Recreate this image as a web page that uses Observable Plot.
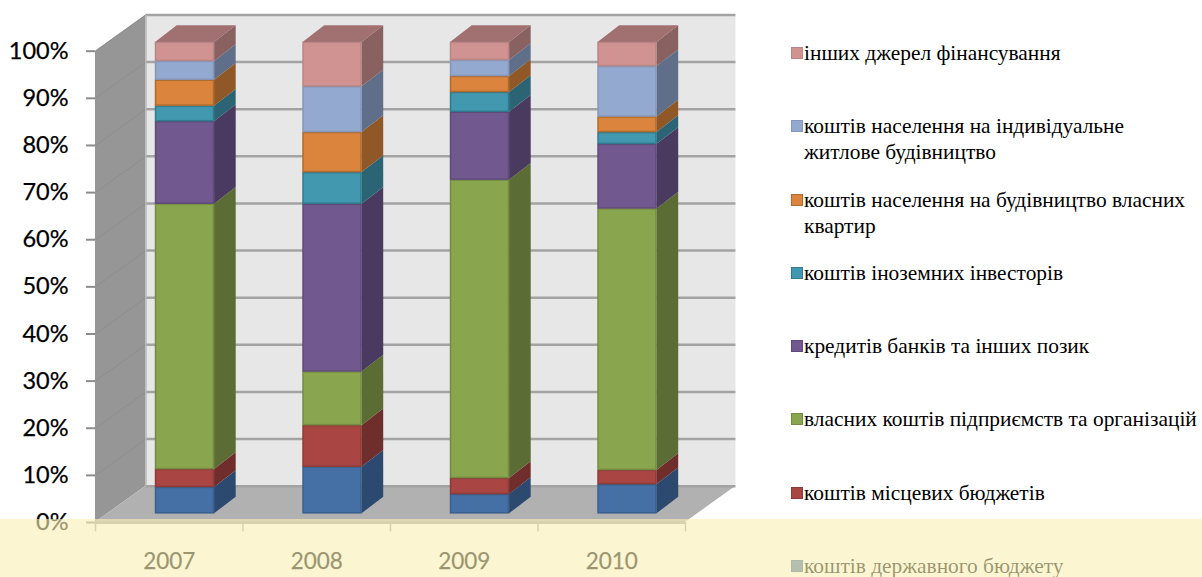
<!DOCTYPE html>
<html lang="uk"><head><meta charset="utf-8">
<style>
html,body{margin:0;padding:0;background:#fff;overflow:hidden}
#stage{position:relative;width:1202px;height:577px;overflow:hidden}
#stage svg{position:absolute;left:0;top:0;overflow:visible}
#legend{position:absolute;left:791px;top:40px;margin:0;padding:0;list-style:none;
  font-family:"Liberation Serif",serif;font-size:21.4px;line-height:26px;color:#000}
#legend li{height:73.3px;display:flex;align-items:flex-start;white-space:pre-line}
#legend i{display:block;flex:none;width:10px;height:10px;margin:7px 1px 0 0;border:1px solid}
#veil{position:absolute;left:0;top:519px;width:1202px;height:58px;background:rgba(249,241,181,.62)}
</style>
<script src="https://cdn.jsdelivr.net/npm/d3@7"></script>
<script src="https://cdn.jsdelivr.net/npm/@observablehq/plot@0.6"></script>
</head><body><div id="stage"></div>
<script>
const years = ["2007","2008","2009","2010"];
const seriesNames = [
  "коштів державного бюджету",
  "коштів місцевих бюджетів",
  "власних коштів підприємств та організацій",
  "кредитів банків та інших позик",
  "коштів іноземних інвесторів",
  "коштів населення на будівництво власних\nквартир",
  "коштів населення на індивідуальне\nжитлове будівництво",
  "інших джерел фінансування"
];
const stateBudget = [5.6, 9.9, 4.1, 6.2];
const localBudgets = [3.8, 8.8, 3.4, 3.0];
const ownFunds = [56.3, 11.4, 63.3, 55.5];
const bankLoans = [17.5, 35.6, 14.4, 13.7];
const foreignInvestors = [3.3, 6.7, 4.2, 2.5];
const ownApartments = [5.5, 8.5, 3.4, 3.3];
const individualHousing = [4.0, 9.7, 3.4, 10.7];
const otherSources = [4.0, 9.4, 3.8, 5.1];
const seriesValues = [stateBudget, localBudgets, ownFunds, bankLoans, foreignInvestors, ownApartments, individualHousing, otherSources];
const frontColors = ["#4470a6","#a94543","#89a54e","#71588f","#4198af","#db843d","#93a9cf","#d19392"];
const sideColors  = ["#2c4a70","#6f2d2c","#5b6d34","#4a3a5f","#2a6475","#905727","#5f6f89","#896161"];
const edgeColors  = ["#3a5f8d","#8e3a38","#748c42","#5f4a79","#2f7a8e","#b06a2d","#8796b8","#b78685"];
const topColor = "#a07170";

// 3-D box geometry, in chart units (x: category slots, y: percent)
const wallDX = 0.342, wallDY = 7.7;
const barLeft = 0.407, barWidth = 0.4, barLift = 1.84;
const barDX = 0.147, barDY = 3.54;
const percentTicks = d3.range(0, 101, 10);

const segments = years.flatMap((year, i) => {
  let sum = 0;
  return seriesValues.map((vals, s) => {
    const lo = sum; sum += vals[i];
    return {key: year + s, s, l: i + barLeft, r: i + barLeft + barWidth,
      lo: lo + barLift, hi: sum + barLift, fill: frontColors[s], side: sideColors[s], edge: edgeColors[s]};
  });
});
const sidePts = segments.flatMap(d => [
  {key: d.key, x: d.r, y1: d.lo, y2: d.hi, fill: d.side},
  {key: d.key, x: d.r + barDX, y1: d.lo + barDY, y2: d.hi + barDY, fill: d.side}
]);
const tops = segments.filter(d => d.s === seriesValues.length - 1).flatMap(d => [
  {key: d.key, x1: d.l, x2: d.r, y: d.hi},
  {key: d.key, x1: d.l + barDX, x2: d.r + barDX, y: d.hi + barDY}
]);

const plot = Plot.plot({
  width: 1202, height: 577,
  marginLeft: 95, marginRight: 517, marginTop: 50.7, marginBottom: 55,
  x: {domain: [0, 4], label: null},
  y: {domain: [0, 100], label: null},
  color: {type: "identity"},
  style: {fontFamily: "Lato, sans-serif", background: "transparent", overflow: "visible"},
  marks: [
    // left wall
    Plot.area([{x: 0, y1: 0, y2: 100}, {x: wallDX, y1: wallDY, y2: 100 + wallDY}],
      {x1: "x", x2: "x", y1: "y1", y2: "y2", fill: "#969696"}),
    // back wall
    Plot.rect([0], {x1: wallDX, x2: 4 + wallDX, y1: wallDY, y2: 100 + wallDY, fill: "#e7e7e7"}),
    // floor
    Plot.area([{x1: 0, x2: 4, y: 0}, {x1: wallDX, x2: 4 + wallDX, y: wallDY}],
      {x1: "x1", x2: "x2", y1: "y", y2: "y", fill: "#b1b1b1"}),
    // wall grid
    Plot.link(percentTicks.slice(1), {x1: 0, x2: wallDX, y1: d => d, y2: d => d + wallDY, stroke: "#8c8c8c", strokeWidth: 0.8}),
    Plot.ruleY(percentTicks, {x1: wallDX, x2: 4 + wallDX, y: d => d + wallDY, stroke: "#a3a3a3", strokeWidth: 2.5}),
    Plot.ruleX([wallDX], {y1: wallDY, y2: 100 + wallDY, stroke: "#b5b5b5", strokeWidth: 1.5}),
    // bars
    Plot.area(sidePts, {x1: "x", x2: "x", y1: "y1", y2: "y2", z: "key", fill: "fill"}),
    Plot.area(tops, {x1: "x1", x2: "x2", y1: "y", y2: "y", z: "key", fill: topColor}),
    Plot.rect(segments, {x1: "l", x2: "r", y1: "lo", y2: "hi", fill: "fill", stroke: "edge", strokeWidth: 1.5, inset: 0.5}),
    // front axis
    Plot.ruleY([0], {x1: 0, x2: 4, stroke: "#a3a3a3", strokeWidth: 3}),
    Plot.ruleX(d3.range(0, 5), {y1: 0, y2: -2, stroke: "#a3a3a3", strokeWidth: 1.5}),
    Plot.axisY({ticks: percentTicks, tickFormat: d => d + "%", tickSize: 9, tickPadding: 18,
      fontSize: 23.5, stroke: "#8c8c8c", strokeWidth: 2, fill: "#000"}),
    Plot.axisX({ticks: years.map((_, i) => i + 0.5), tickFormat: d => years[Math.floor(d)], tickSize: 0, tickPadding: 31,
      fontSize: 22.5, fill: "#000"})
  ]
});
const stage = document.getElementById("stage");
stage.append(plot);
stage.querySelectorAll("svg text").forEach(t => {
  t.style.fill = "#000"; t.style.stroke = "#000"; t.style.strokeWidth = "0.25px";
});

const legend = document.createElement("ul");
legend.id = "legend";
seriesNames.slice().reverse().forEach((name, k) => {
  const s = seriesNames.length - 1 - k;
  const li = document.createElement("li");
  const sw = document.createElement("i");
  sw.style.background = frontColors[s];
  sw.style.borderColor = edgeColors[s];
  li.append(sw, document.createTextNode(name));
  legend.append(li);
});
stage.append(legend);
const veil = document.createElement("div");
veil.id = "veil";
stage.append(veil);
</script></body></html>
